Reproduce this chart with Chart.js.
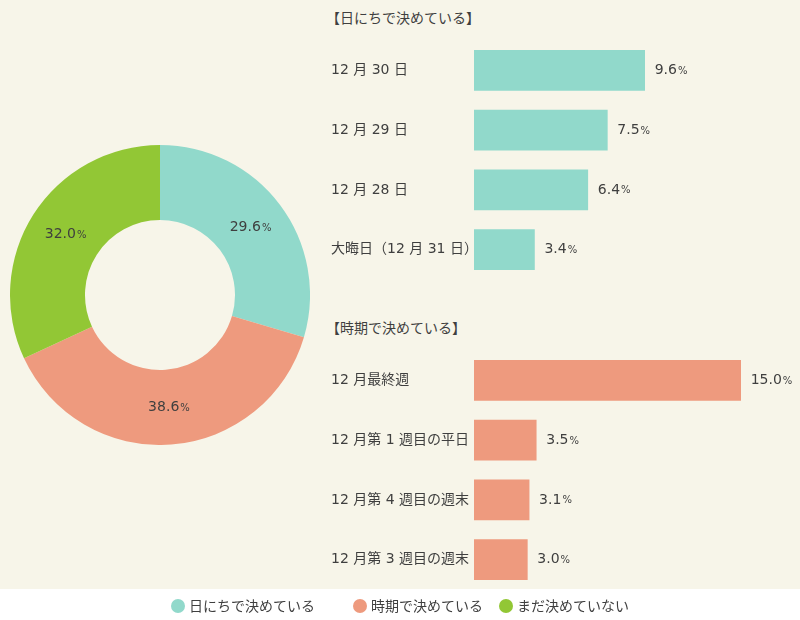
<!DOCTYPE html>
<html lang="ja">
<head>
<meta charset="utf-8">
<script src="https://cdn.jsdelivr.net/npm/chart.js@4"></script>
<style>
  body { margin: 0; background: #fff; }
  #wrap { position: relative; width: 800px; height: 620px; font-family: "DejaVu Sans", "Noto Sans CJK JP", sans-serif; color: #3f3f3f; }
  #bg { position: absolute; left: 0; top: 0; width: 800px; height: 589px; background: #f7f5e9; }
  .box { position: absolute; }
  .head { position: absolute; left: 326px; font-size: 14px; line-height: 18px; }
  #legend { position: absolute; left: 0; top: 589px; width: 800px; height: 31px; display: flex; justify-content: center; align-items: center; font-size: 14px; }
  #legend div:nth-child(1) { margin-right: 38px; }
  #legend div:nth-child(2) { margin-right: 16px; }
  #legend span.dot { display: inline-block; width: 14px; height: 14px; border-radius: 50%; margin-right: 4px; vertical-align: -2px; }
</style>
</head>
<body>
<div id="wrap">
  <div id="bg"></div>
  <div class="box" style="left:10px;top:145px;width:300px;height:300px;"><canvas id="pieChart"></canvas></div>
  <div class="head" style="top:9px;">【日にちで決めている】</div>
  <div class="box" style="left:320px;top:32px;width:480px;height:256px;"><canvas id="dayChart"></canvas></div>
  <div class="head" style="top:319px;">【時期で決めている】</div>
  <div class="box" style="left:320px;top:342px;width:480px;height:256px;"><canvas id="periodChart"></canvas></div>
  <div id="legend"></div>
</div>
<script>
const pieLabels = ['日にちで決めている', '時期で決めている', 'まだ決めていない'];
const pieValues = [29.6, 38.6, 32.0];
const pieColors = ['#91d9cb', '#ee9a7e', '#92c735'];

const dayLabels = ['12 月 30 日', '12 月 29 日', '12 月 28 日', '大晦日（12 月 31 日）'];
const dayValues = [9.6, 7.5, 6.4, 3.4];

const periodLabels = ['12 月最終週', '12 月第 1 週目の平日', '12 月第 4 週目の週末', '12 月第 3 週目の週末'];
const periodValues = [15.0, 3.5, 3.1, 3.0];

const fontFamily = '"DejaVu Sans", "Noto Sans CJK JP", sans-serif';
const textColor = '#3f3f3f';

// number then a smaller "%"
function drawPercent(ctx, value, x, y, align) {
  const num = value.toFixed(1);
  ctx.save();
  ctx.fillStyle = textColor;
  ctx.textBaseline = 'middle';
  ctx.font = '14px ' + fontFamily;
  const w1 = ctx.measureText(num).width;
  ctx.font = '10px ' + fontFamily;
  const w2 = ctx.measureText('%').width;
  let start = align === 'center' ? x - (w1 + w2) / 2 : x;
  ctx.textAlign = 'left';
  ctx.font = '14px ' + fontFamily;
  ctx.fillText(num, start, y);
  ctx.font = '10px ' + fontFamily;
  ctx.fillText('%', start + w1 + 1, y + 1);
  ctx.restore();
}

const barValuePlugin = {
  id: 'barValues',
  afterDatasetsDraw(chart) {
    const meta = chart.getDatasetMeta(0);
    meta.data.forEach((bar, i) => {
      drawPercent(chart.ctx, chart.data.datasets[0].data[i], bar.x + 10, bar.y, 'left');
    });
  }
};

const pieValuePlugin = {
  id: 'pieValues',
  afterDatasetsDraw(chart) {
    const meta = chart.getDatasetMeta(0);
    meta.data.forEach((arc, i) => {
      const p = arc.tooltipPosition();
      drawPercent(chart.ctx, chart.data.datasets[0].data[i], p.x, p.y, 'center');
    });
  }
};

new Chart(document.getElementById('pieChart'), {
  type: 'doughnut',
  data: {
    labels: pieLabels,
    datasets: [{ data: pieValues, backgroundColor: pieColors, borderWidth: 0 }]
  },
  options: {
    responsive: true,
    maintainAspectRatio: false,
    animation: false,
    cutout: '50%',
    plugins: { legend: { display: false }, tooltip: { enabled: false } }
  },
  plugins: [pieValuePlugin]
});

function barChart(id, labels, values, color) {
  return new Chart(document.getElementById(id), {
    type: 'bar',
    data: {
      labels: labels,
      datasets: [{ data: values, backgroundColor: color, barThickness: 40 }]
    },
    options: {
      indexAxis: 'y',
      responsive: true,
      maintainAspectRatio: false,
      animation: false,
      layout: { padding: { left: 11, right: 6, top: 0, bottom: 0 } },
      scales: {
        x: { display: false, min: 0, max: 18 },
        y: {
          grid: { display: false },
          border: { display: false },
          ticks: { color: textColor, font: { family: fontFamily, size: 14 }, crossAlign: 'far', padding: 0 },
          afterFit(scale) { scale.width = 143; }
        }
      },
      plugins: { legend: { display: false }, tooltip: { enabled: false } }
    },
    plugins: [barValuePlugin]
  });
}

barChart('dayChart', dayLabels, dayValues, pieColors[0]);
barChart('periodChart', periodLabels, periodValues, pieColors[1]);

// legend strip built from the doughnut's data
const legend = document.getElementById('legend');
pieLabels.forEach((label, i) => {
  const item = document.createElement('div');
  item.innerHTML = '<span class="dot" style="background:' + pieColors[i] + '"></span>' + label;
  legend.appendChild(item);
});
</script>
</body>
</html>
